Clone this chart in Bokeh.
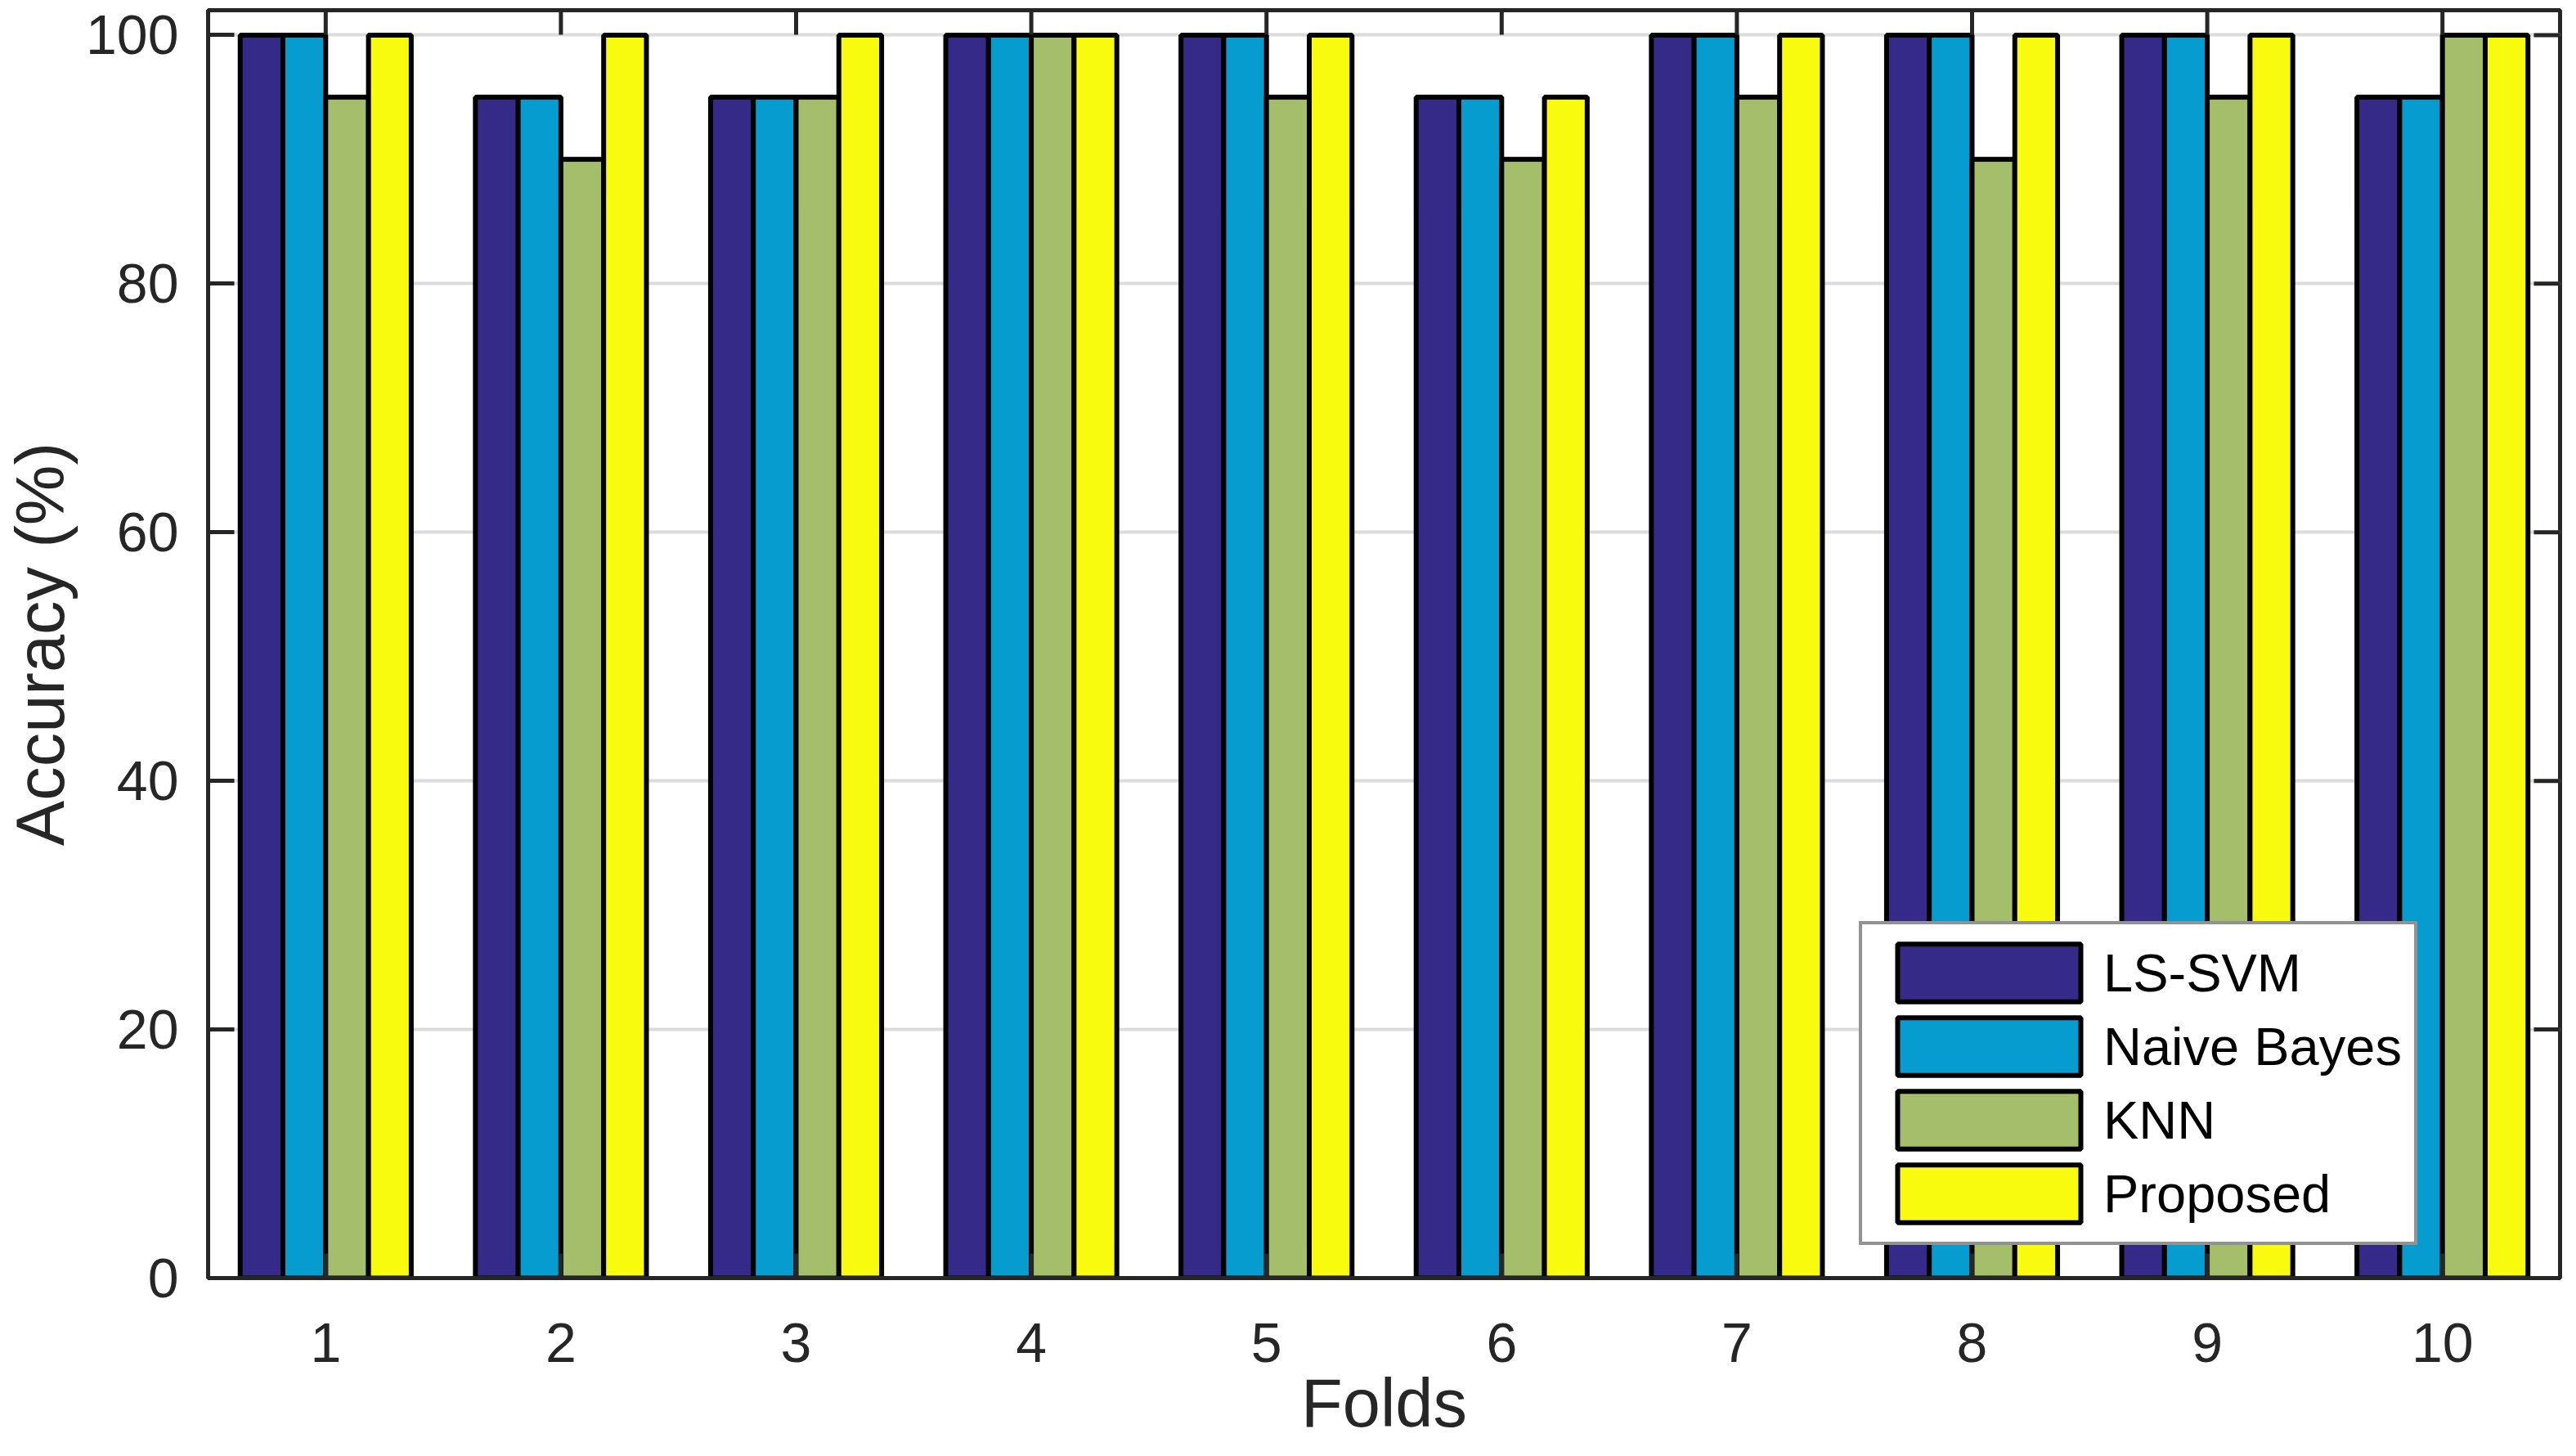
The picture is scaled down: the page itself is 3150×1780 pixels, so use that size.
import math
from bokeh.plotting import figure
from bokeh.models import ColumnDataSource, FixedTicker, Legend, LegendItem, Range1d
from bokeh.transform import dodge
from bokeh.embed import file_html
from bokeh.resources import INLINE

# ---- data ----
folds = [1, 2, 3, 4, 5, 6, 7, 8, 9, 10]
ls_svm = [100, 95, 95, 100, 100, 95, 100, 100, 100, 95]
naive_bayes = [100, 95, 95, 100, 100, 95, 100, 100, 100, 95]
knn = [95, 90, 95, 100, 95, 90, 95, 90, 95, 100]
proposed = [100, 100, 100, 100, 100, 95, 100, 100, 100, 100]
series_names = ["LS-SVM", "Naive Bayes", "KNN", "Proposed"]
y_ticks = [0, 20, 40, 60, 80, 100]

colors = ["#352A87", "#079CCF", "#A5BE6B", "#F9FB0E"]
FONT = "Liberation Sans"
AX = "#262626"

source = ColumnDataSource(dict(fold=folds, ls_svm=ls_svm, naive_bayes=naive_bayes,
                               knn=knn, proposed=proposed))

p = figure(width=3134, height=1764,
           x_range=Range1d(0.5, 10.5), y_range=Range1d(0, 102),
           output_backend="svg", toolbar_location=None,
           min_border_left=247, min_border_right=4,
           min_border_top=12, min_border_bottom=0)
p.background_fill_color = "white"
p.border_fill_color = "white"
p.outline_line_color = AX
p.outline_line_width = 5

# grid (behind bars)
yticker = FixedTicker(ticks=y_ticks)
xticker = FixedTicker(ticks=folds)
p.xgrid.grid_line_color = None
p.ygrid.ticker = yticker
p.ygrid.grid_line_color = "#dcdcdc"
p.ygrid.grid_line_width = 4

bw = 0.1818
offsets = [-0.2727, -0.0909, 0.0909, 0.2727]
cols = ["ls_svm", "naive_bayes", "knn", "proposed"]
renderers = []
for col, color, off in zip(cols, colors, offsets):
    r = p.vbar(x=dodge("fold", off, range=p.x_range), top=col, width=bw,
               source=source, fill_color=color, line_color="black",
               line_width=6)
    renderers.append(r)

# mirrored inward ticks on top and right sides (box on)
p.ray(x=folds, y=[p.y_range.end] * len(folds), length=30, length_units="screen",
      angle=-math.pi / 2, line_color=AX, line_width=5)
p.ray(x=[p.x_range.end] * len(y_ticks), y=y_ticks, length=32, length_units="screen",
      angle=math.pi, line_color=AX, line_width=5)

def style_axis(ax, tick_len):
    ax.axis_line_color = AX
    ax.axis_line_width = 5
    ax.major_tick_line_color = AX
    ax.major_tick_line_width = 5
    ax.major_tick_in = tick_len
    ax.major_tick_out = 0
    ax.minor_tick_line_color = None
    ax.major_label_text_font = FONT
    ax.major_label_text_font_size = "68px"
    ax.major_label_text_color = AX
    ax.axis_label_text_font = FONT
    ax.axis_label_text_font_size = "83px"
    ax.axis_label_text_font_style = "normal"
    ax.axis_label_text_color = AX

xa = p.below[0]
ya = p.left[0]
xa.ticker = xticker
ya.ticker = yticker
style_axis(xa, 30)
style_axis(ya, 32)
xa.major_label_standoff = 55
ya.major_label_standoff = 36
xa.axis_label = "Folds"
ya.axis_label = "Accuracy (%)"
xa.axis_label_standoff = 1
ya.axis_label_standoff = 6

items = [LegendItem(label=n, renderers=[r]) for n, r in zip(series_names, renderers)]
legend = Legend(items=items, location=(2019, 40),
                glyph_width=280, glyph_height=88, label_standoff=0,
                padding=15, spacing=2, margin=0,
                border_line_color=AX, border_line_width=4,
                background_fill_color="white", background_fill_alpha=1,
                label_text_font=FONT, label_text_font_size="65px",
                label_text_color="black")
p.add_layout(legend)

open("out.html", "w").write(file_html(p, INLINE))
